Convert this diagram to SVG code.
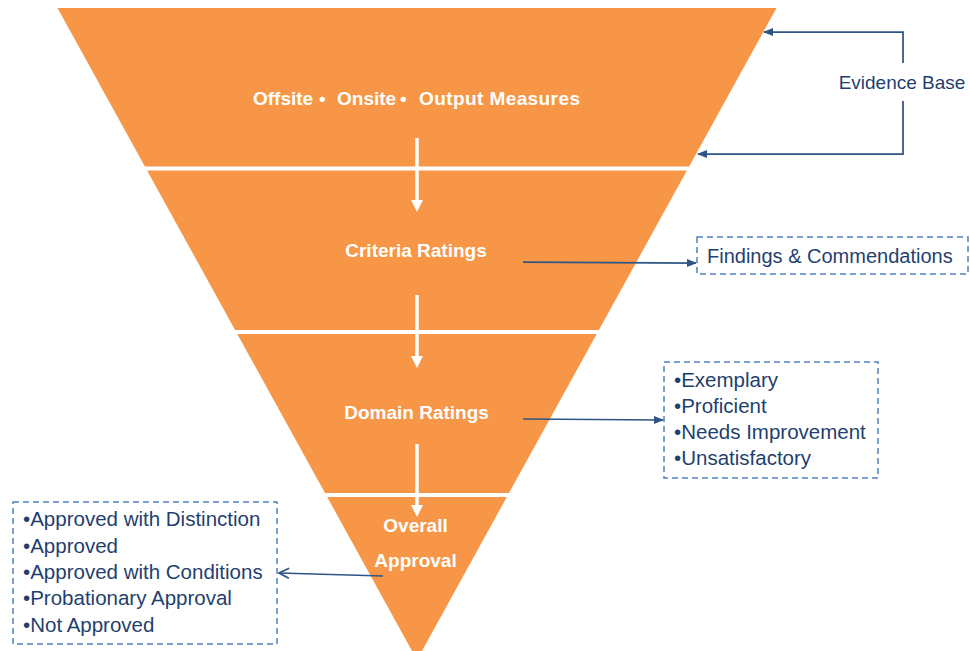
<svg xmlns="http://www.w3.org/2000/svg" width="970" height="651" viewBox="0 0 970 651">
<style>
.band{fill:#F79646}
.wt{font-family:"Liberation Sans",Arial,sans-serif;font-weight:bold;font-size:19px;fill:#FFFFFF}
.bt{font-family:"Liberation Sans",Arial,sans-serif;font-size:20.5px;fill:#1F3F6F}
.box{fill:none;stroke:#4F81BD;stroke-width:1.5;stroke-dasharray:6 4}
.wa{fill:none;stroke:#FFFFFF;stroke-width:3.5}
.ba{fill:none;stroke:#2E5585;stroke-width:1.75}
</style>
<defs>
<marker id="whead" markerUnits="userSpaceOnUse" viewBox="0 0 12 12" markerWidth="12" markerHeight="12" refX="2" refY="6" orient="auto">
<path d="M0,0 L12,6 L0,12 z" fill="#FFFFFF"/>
</marker>
<marker id="bhead" markerUnits="userSpaceOnUse" viewBox="0 0 10 10" markerWidth="10" markerHeight="10" refX="9" refY="5" orient="auto">
<path d="M0,1 L10,5 L0,9 z" fill="#2E5585"/>
</marker>
<marker id="ohead" markerUnits="userSpaceOnUse" viewBox="0 0 12 12" markerWidth="12" markerHeight="12" refX="11" refY="6" orient="auto">
<path d="M1,1 L11,6 L1,11" fill="none" stroke="#2E5585" stroke-width="1.75"/>
</marker>
</defs>
<rect width="970" height="651" fill="#FFFFFF"/>

<g id="band-evidence">
<polygon class="band" points="57.5,8 776.5,8 689.1,166.5 144.9,166.5"/>
<text class="wt" y="105"><tspan x="253">Offsite</tspan><tspan x="319">•</tspan><tspan x="337">Onsite</tspan><tspan x="400">•</tspan><tspan x="419" textLength="161">Output Measures</tspan></text>
</g>
<g id="band-criteria">
<polygon class="band" points="147.1,170.5 686.9,170.5 598.9,330 235.1,330"/>
<text class="wt" x="416" y="257" text-anchor="middle">Criteria Ratings</text>
</g>
<g id="band-domain">
<polygon class="band" points="237.3,334 596.7,334 509,493 325,493"/>
<text class="wt" x="416.5" y="419" text-anchor="middle">Domain Ratings</text>
</g>
<g id="band-overall">
<polygon class="band" points="327.2,497 506.8,497 417,660"/>
<text class="wt" x="415.5" y="532" text-anchor="middle">Overall</text>
<text class="wt" x="415.5" y="567" text-anchor="middle">Approval</text>
</g>

<g id="evidence-base">
<text class="bt" x="902" y="89" text-anchor="middle" style="font-size:19px">Evidence Base</text>
</g>
<g id="findings">
<rect class="box" x="697" y="237" width="271" height="37"/>
<text class="bt" x="707" y="263" style="font-size:20px">Findings &amp; Commendations</text>
</g>
<g id="domain-levels">
<rect class="box" x="664" y="362" width="214" height="116"/>
<text class="bt" x="674" y="387">•Exemplary</text>
<text class="bt" x="674" y="413">•Proficient</text>
<text class="bt" x="674" y="439">•Needs Improvement</text>
<text class="bt" x="674" y="465">•Unsatisfactory</text>
</g>
<g id="approval-levels">
<rect class="box" x="13" y="502" width="264" height="142"/>
<text class="bt" x="23" y="526">•Approved with Distinction</text>
<text class="bt" x="23" y="553">•Approved</text>
<text class="bt" x="23" y="579">•Approved with Conditions</text>
<text class="bt" x="23" y="605">•Probationary Approval</text>
<text class="bt" x="23" y="632">•Not Approved</text>
</g>

<g id="connectors">
<path class="wa" d="M417,138 V202" marker-end="url(#whead)"/>
<path class="wa" d="M417,295 V358" marker-end="url(#whead)"/>
<path class="wa" d="M417,444 V507" marker-end="url(#whead)"/>
<path class="ba" d="M903,63 V32 H764" marker-end="url(#bhead)"/>
<path class="ba" d="M903,101 V154 H698" marker-end="url(#bhead)"/>
<path class="ba" d="M523,262 L696,263" marker-end="url(#bhead)"/>
<path class="ba" d="M523,419 L663,420" marker-end="url(#bhead)"/>
<path class="ba" d="M383,576 L279,573" marker-end="url(#ohead)"/>
</g>
</svg>
